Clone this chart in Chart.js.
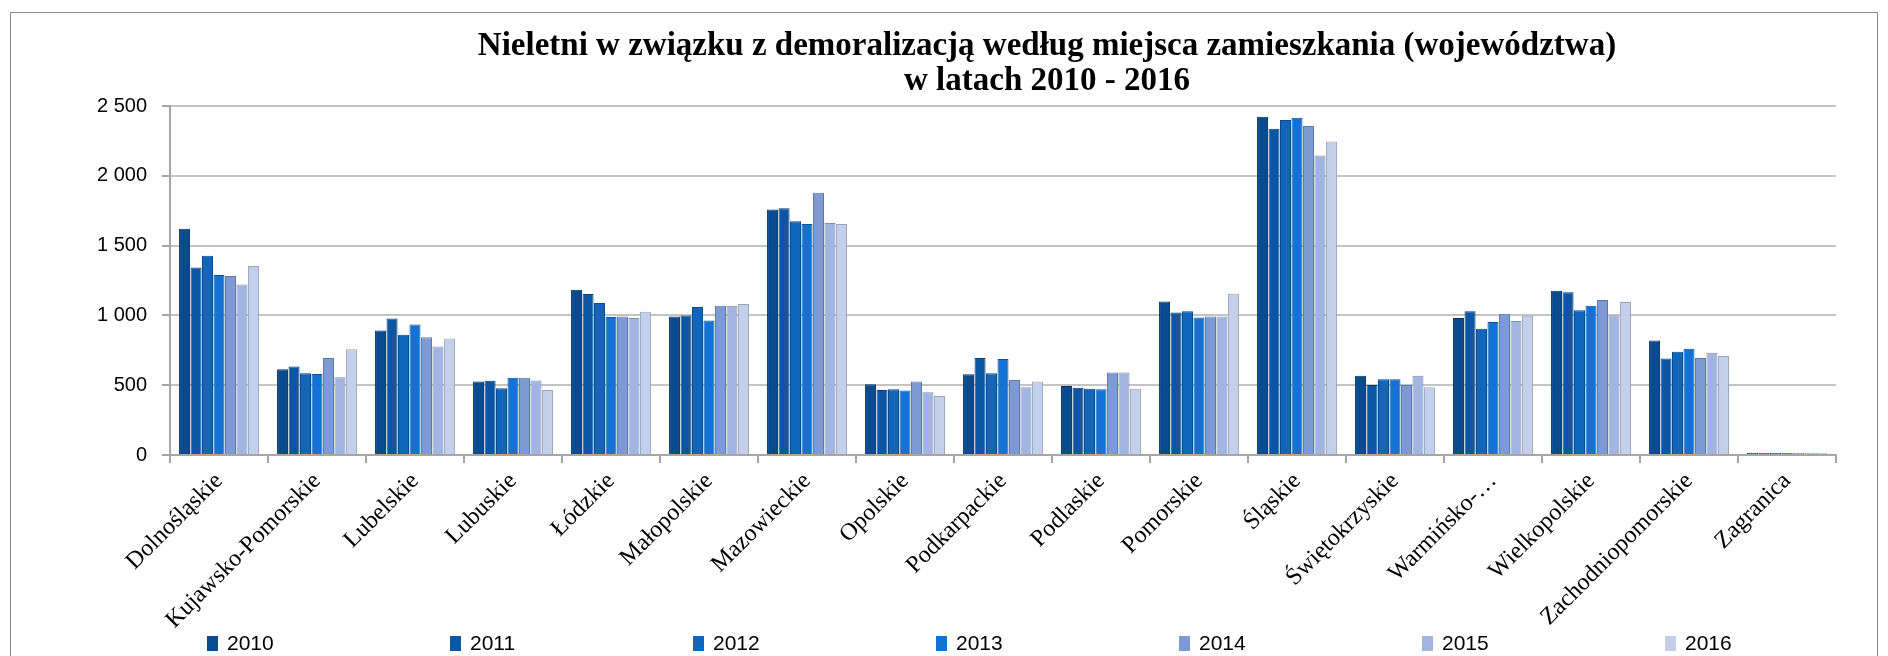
<!DOCTYPE html>
<html>
<head>
<meta charset="utf-8">
<script src="https://cdn.jsdelivr.net/npm/chart.js@4/dist/chart.umd.min.js"></script>
<style>
    html, body { margin: 0; padding: 0; background: #fff; }
    #wrap { position: relative; width: 1888px; height: 656px; }
</style>
</head>
<body>
<div id="wrap"><canvas id="chart" width="1888" height="656"></canvas></div>
<script>
// Data
const categories = ['Dolnośląskie', 'Kujawsko-Pomorskie', 'Lubelskie', 'Lubuskie', 'Łódzkie', 'Małopolskie',
    'Mazowieckie', 'Opolskie', 'Podkarpackie', 'Podlaskie', 'Pomorskie', 'Śląskie', 'Świętokrzyskie',
    'Warmińsko-…', 'Wielkopolskie', 'Zachodniopomorskie', 'Zagranica'];
const years = ['2010', '2011', '2012', '2013', '2014', '2015', '2016'];

const v2010 = [1620, 615, 892, 526, 1184, 993, 1758, 507, 579, 495, 1100, 2423, 567, 981, 1177, 820, 15];
const v2011 = [1344, 634, 978, 531, 1153, 1000, 1768, 466, 694, 481, 1021, 2337, 502, 1029, 1165, 691, 15];
const v2012 = [1428, 586, 861, 478, 1088, 1060, 1674, 471, 586, 474, 1029, 2399, 543, 904, 1036, 739, 15];
const v2013 = [1289, 581, 935, 553, 988, 964, 1655, 462, 687, 471, 985, 2416, 543, 952, 1069, 761, 15];
const v2014 = [1282, 694, 844, 553, 993, 1069, 1878, 526, 538, 591, 993, 2356, 502, 1012, 1110, 694, 15];
const v2015 = [1222, 557, 777, 533, 981, 1069, 1662, 450, 486, 591, 993, 2146, 567, 959, 1000, 732, 15];
const v2016 = [1354, 758, 835, 466, 1026, 1081, 1655, 423, 526, 474, 1155, 2246, 486, 997, 1096, 710, 15];

const titleLines = ['Nieletni w związku z demoralizacją według miejsca zamieszkania (województwa)', 'w latach 2010 - 2016'];

const colors = ['#0A4A8E', '#0C56A4', '#1066BB', '#1572D4', '#7D9AD3', '#A2B5DF', '#C3CFEB'];
const edges  = ['#06305E', '#083C74', '#0A4888', '#0E529A', '#5C77A8', '#7F8FAE', '#98A2B8'];
const series = [v2010, v2011, v2012, v2013, v2014, v2015, v2016];

function fmt(v) {
    return String(v).replace(/\B(?=(\d{3})+(?!\d))/g, ' ');
}

// frame, title and legend drawn on the canvas
const decorations = {
    id: 'decorations',
    afterDraw(chart) {
        const ctx = chart.ctx;
        ctx.save();
        ctx.strokeStyle = '#8C8C8C';
        ctx.lineWidth = 1;
        ctx.strokeRect(10.5, 12.5, 1867, 700);

        ctx.fillStyle = '#000';
        ctx.font = 'bold 33px "Liberation Serif"';
        ctx.textAlign = 'center';
        ctx.textBaseline = 'middle';
        ctx.fillText(titleLines[0], 1047, 46);
        ctx.fillText(titleLines[1], 1047, 81);

        ctx.font = '21px "Liberation Sans"';
        ctx.textAlign = 'left';
        chart.data.datasets.forEach((ds, i) => {
            const x = 207 + i * 243;
            ctx.fillStyle = ds.backgroundColor;
            ctx.fillRect(x, 636, 11, 15);
            ctx.fillStyle = '#000';
            ctx.fillText(ds.label, x + 20, 644);
        });
        ctx.restore();
    }
};

const ctx = document.getElementById('chart').getContext('2d');
new Chart(ctx, {
    type: 'bar',
    data: {
        labels: categories,
        datasets: years.map((y, i) => ({
            label: y,
            data: series[i],
            backgroundColor: colors[i],
            borderColor: edges[i],
            borderWidth: 1,
            categoryPercentage: 0.82,
            barPercentage: 0.96
        }))
    },
    options: {
        responsive: false,
        animation: false,
        layout: { padding: { top: 106, right: 52, left: 0, bottom: 0 } },
        plugins: {
            legend: { display: false },
            title: { display: false },
            tooltip: { enabled: false }
        },
        scales: {
            x: {
                offset: true,
                grid: { offset: true, drawOnChartArea: false, drawTicks: true, tickLength: 8, color: '#A6A6A6', lineWidth: 2 },
                border: { color: '#A6A6A6', width: 2 },
                ticks: {
                    autoSkip: false,
                    minRotation: 45,
                    maxRotation: 45,
                    padding: 4,
                    color: '#000',
                    font: { family: '"Liberation Serif"', size: 24 }
                },
                afterFit(scale) { scale.height = 201; }
            },
            y: {
                min: 0,
                max: 2500,
                grid: { color: '#C4C4C4', lineWidth: 2, tickLength: 8, tickColor: '#A6A6A6' },
                border: { color: '#A6A6A6', width: 2 },
                ticks: {
                    stepSize: 500,
                    padding: 15,
                    color: '#000',
                    font: { family: '"Liberation Sans"', size: 20 },
                    callback: v => fmt(v)
                },
                afterFit(scale) { scale.width = 170; }
            }
        }
    },
    plugins: [decorations]
});
</script>
</body>
</html>
